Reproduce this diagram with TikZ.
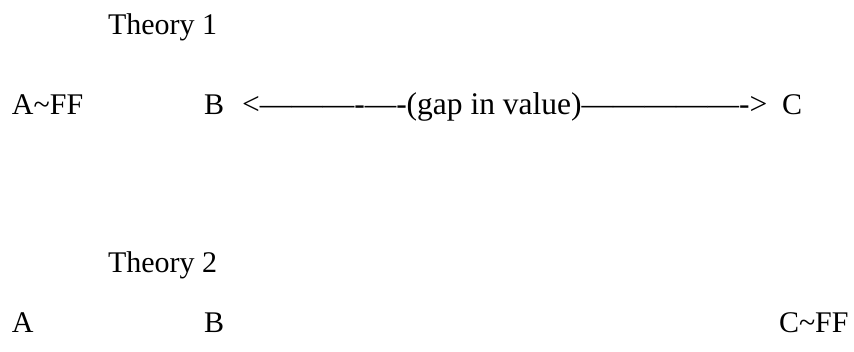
\documentclass[tikz,border=0pt]{standalone}
\usepackage{fontspec}
\setmainfont{Liberation Serif}
\tikzset{
  lbl/.style={anchor=base west, inner sep=0pt, outer sep=0pt, font=\fontsize{30}{36}\selectfont},
  arrowtext/.style={lbl, font=\fontsize{31.5}{36}\selectfont}
}
\begin{document}
\begin{tikzpicture}[x=1pt,y=-1pt]
\useasboundingbox (0,0) rectangle (854,351);
\node[lbl] (t1) at (108,34) {Theory 1};
\node[lbl] (a1) at (12,114) {A\textasciitilde FF};
\node[lbl] (b1) at (204,114) {B};
\node[arrowtext] (gap) at (242,114) {<———-—-(gap in value)—————->};
\node[lbl] (c1) at (782,114) {C};
\node[lbl] (t2) at (108,272) {Theory 2};
\node[lbl] (a2) at (12,332) {A};
\node[lbl] (b2) at (204,332) {B};
\node[lbl] (c2) at (779,332) {C\textasciitilde FF};
\end{tikzpicture}
\end{document}
